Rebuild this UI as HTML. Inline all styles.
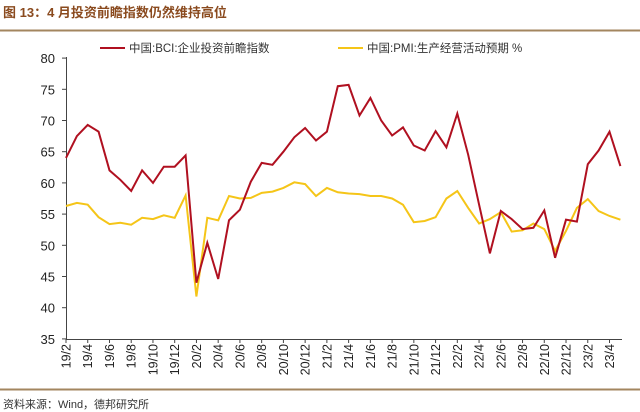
<!DOCTYPE html>
<html><head><meta charset="utf-8"><style>
body{margin:0;background:#fff;}
svg{display:block;}
text{font-family:"Liberation Sans","Noto Sans CJK SC",sans-serif;}
</style></head><body>
<svg width="640" height="412" viewBox="0 0 640 412" xmlns="http://www.w3.org/2000/svg">
<text x="3" y="17" font-size="13" font-weight="bold" fill="#8a4a1e">图 13：4 月投资前瞻指数仍然维持高位</text>
<line x1="0" y1="30.5" x2="640" y2="30.5" stroke="#a3865f" stroke-width="2"/>
<line x1="0" y1="389.5" x2="640" y2="389.5" stroke="#a3865f" stroke-width="2"/>
<text x="3" y="408" font-size="11" fill="#333">资料来源：Wind，德邦研究所</text>
<line x1="100" y1="48" x2="125" y2="48" stroke="#b01020" stroke-width="2"/>
<text x="129" y="52" font-size="11.5" fill="#333">中国:BCI:企业投资前瞻指数</text>
<line x1="338" y1="48" x2="363" y2="48" stroke="#f5c518" stroke-width="2"/>
<text x="367" y="52" font-size="11.5" fill="#333">中国:PMI:生产经营活动预期 %</text>
<g id="axes" stroke="#444" stroke-width="1">
<line x1="66.5" y1="57" x2="66.5" y2="339"/>
<line x1="66" y1="339.5" x2="622" y2="339.5"/>
</g>
<g id="yt"></g>
<g id="xt"></g>
<polyline id="pmi" fill="none" stroke="#f5c518" stroke-width="2"/>
<polyline id="bci" fill="none" stroke="#b01020" stroke-width="2"/>
</svg>
<script>
var ns="http://www.w3.org/2000/svg";
function Y(v){return 338.9-(v-35)*6.24;}
function X(i){return 66+i*10.87;}
var yt=document.getElementById('yt');
for(var v=35;v<=80;v+=5){
 var t=document.createElementNS(ns,'text');t.setAttribute('x',55);t.setAttribute('y',Y(v)+5);t.setAttribute('text-anchor','end');t.setAttribute('font-size','13');t.setAttribute('fill','#222');t.textContent=v;yt.appendChild(t);
 var l=document.createElementNS(ns,'line');l.setAttribute('x1',62);l.setAttribute('x2',66);l.setAttribute('y1',Y(v));l.setAttribute('y2',Y(v));l.setAttribute('stroke','#444');yt.appendChild(l);
}
var labs=["19/2","19/4","19/6","19/8","19/10","19/12","20/2","20/4","20/6","20/8","20/10","20/12","21/2","21/4","21/6","21/8","21/10","21/12","22/2","22/4","22/6","22/8","22/10","22/12","23/2","23/4"];
var xt=document.getElementById('xt');
for(var k=0;k<labs.length;k++){
 var x=X(k*2);
 var l=document.createElementNS(ns,'line');l.setAttribute('x1',x);l.setAttribute('x2',x);l.setAttribute('y1',339);l.setAttribute('y2',343);l.setAttribute('stroke','#444');xt.appendChild(l);
 var t=document.createElementNS(ns,'text');t.setAttribute('transform','translate('+(x+4.5)+',344) rotate(-90)');t.setAttribute('text-anchor','end');t.setAttribute('font-size','12.5');t.setAttribute('fill','#222');t.textContent=labs[k];xt.appendChild(t);
}
var bci=[64,67.5,69.3,68.2,62,60.5,58.7,62,60,62.6,62.6,64.4,44,50.4,44.6,54,55.7,60.2,63.2,62.9,65,67.3,68.8,66.8,68.2,75.5,75.7,70.8,73.6,70.0,67.6,68.9,66.0,65.2,68.3,65.7,71.1,64.5,56.5,48.7,55.5,54.2,52.6,52.8,55.6,48.0,54.1,53.8,63.0,65.2,68.2,62.7];
var pmi=[56.3,56.8,56.5,54.5,53.4,53.6,53.3,54.4,54.2,54.8,54.4,58,41.8,54.4,54,57.9,57.5,57.6,58.4,58.6,59.2,60.1,59.8,57.9,59.2,58.5,58.3,58.2,57.9,57.9,57.5,56.5,53.7,53.9,54.5,57.5,58.7,56.0,53.5,54.2,55.3,52.2,52.4,53.5,52.6,49.1,52.3,56.0,57.4,55.5,54.7,54.1];
function pts(a){return a.map(function(v,i){return X(i).toFixed(1)+','+Y(v).toFixed(1);}).join(' ');}
document.getElementById('bci').setAttribute('points',pts(bci));
document.getElementById('pmi').setAttribute('points',pts(pmi));
</script>
</body></html>
